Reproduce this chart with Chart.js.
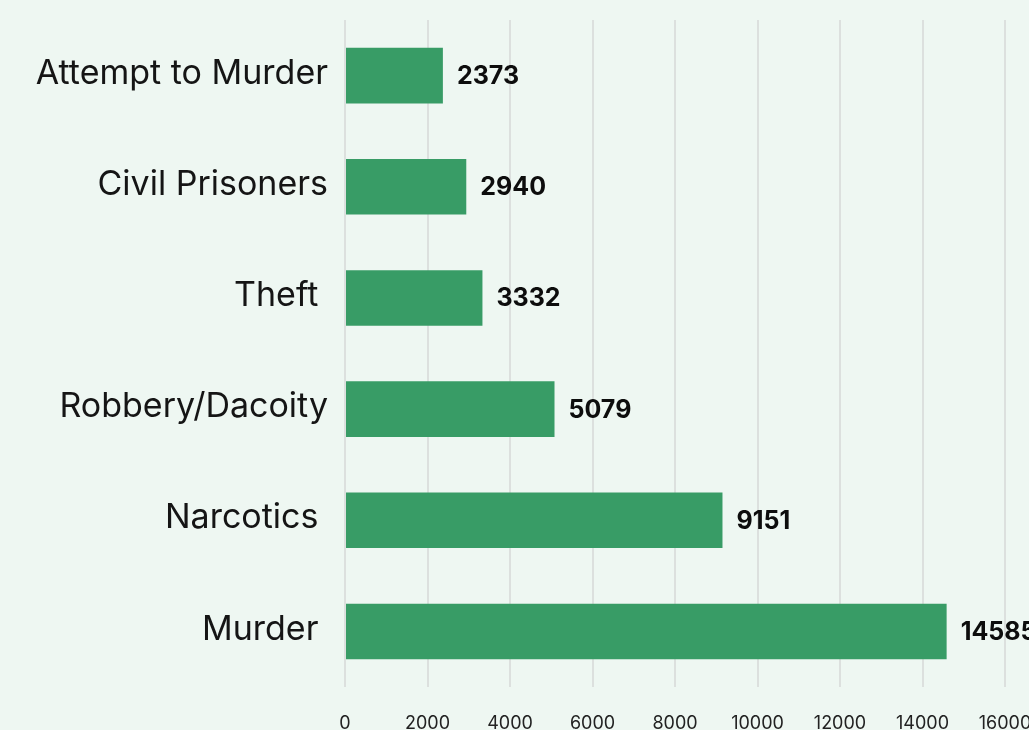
<!DOCTYPE html>
<html>
<head>
<meta charset="utf-8">
<script src="https://cdn.jsdelivr.net/npm/chart.js@4.4.1/dist/chart.umd.min.js"></script>
<style>
html,body{margin:0;padding:0;background:#EEF7F2;overflow:hidden;}
#wrap{width:1029px;height:730px;position:relative;}
</style>
</head>
<body>
<div id="wrap"><canvas id="c" width="1029" height="730"></canvas></div>
<script>
const categories = ["Attempt to Murder", "Civil Prisoners", "Theft ", "Robbery/Dacoity", "Narcotics ", "Murder "];
const prisoners = [2373, 2940, 3332, 5079, 9151, 14585];
const xTicks = [0, 2000, 4000, 6000, 8000, 10000, 12000, 14000, 16000];

const valueLabels = {
  id: 'valueLabels',
  afterDatasetsDraw(chart) {
    const ctx = chart.ctx;
    const meta = chart.getDatasetMeta(0);
    ctx.save();
    ctx.font = 'bold 25px Inter, "Noto Sans", sans-serif';
    ctx.fillStyle = '#0d0d0d';
    ctx.textAlign = 'left';
    ctx.textBaseline = 'middle';
    meta.data.forEach((bar, i) => {
      ctx.fillText(String(prisoners[i]), bar.x + 14, bar.y + 1);
    });
    ctx.restore();
  }
};

new Chart(document.getElementById('c'), {
  type: 'bar',
  data: {
    labels: categories,
    datasets: [{
      data: prisoners,
      backgroundColor: '#389C66',
      borderWidth: 0,
      barPercentage: 0.5,
      categoryPercentage: 1.0
    }]
  },
  options: {
    indexAxis: 'y',
    responsive: false,
    animation: false,
    devicePixelRatio: 1,
    layout: { padding: { top: 20, right: 24, left: 0, bottom: 0 } },
    plugins: { legend: { display: false }, tooltip: { enabled: false } },
    scales: {
      x: {
        min: 0, max: 16000,
        afterBuildTicks(scale) { scale.ticks = xTicks.map(v => ({ value: v })); },
        grid: { color: '#DCE0DE', lineWidth: 2, drawTicks: false },
        border: { display: false },
        ticks: {
          color: '#222222',
          font: { family: 'Inter, "Noto Sans", sans-serif', size: 18 },
          padding: 26,
          maxRotation: 0,
          autoSkip: false,
          callback: (v) => String(v)
        },
        afterFit(scale) { scale.height = 43; scale.paddingLeft = 0; scale.paddingRight = 0; }
      },
      y: {
        grid: { display: false, drawTicks: false },
        border: { display: false },
        ticks: {
          color: '#151515',
          font: { family: 'Inter, "Noto Sans", sans-serif', size: 34 },
          padding: 17,
          labelOffset: -2
        },
        afterFit(scale) { scale.width = 345; scale.paddingTop = 0; scale.paddingBottom = 0; }
      }
    }
  },
  plugins: [valueLabels]
});
</script>
</body>
</html>
